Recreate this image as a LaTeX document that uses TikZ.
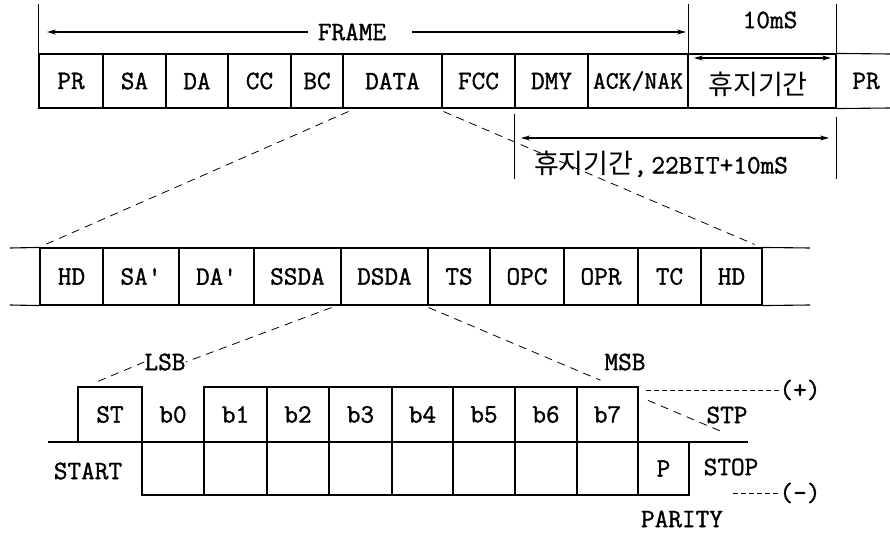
\documentclass[tikz,border=0pt]{standalone}
\usepackage{fontspec}
\newfontfamily\kr{Noto Sans CJK KR}
\newfontfamily\tfont{Latin Modern Mono}[FakeBold=1.2]
\usetikzlibrary{arrows.meta,calc}
\begin{document}
\begin{tikzpicture}[x=1pt,y=-1pt,
  every node/.style={font=\tfont\fontsize{26.5}{28}\selectfont, inner sep=0pt},
  cell/.style={draw, line width=1.1pt, minimum height=54pt},
  mcell/.style={draw, line width=1.1pt, minimum height=57pt},
  tcell/.style={draw, line width=1.1pt, minimum height=55pt},
  bcell/.style={draw, line width=1.1pt, minimum height=53pt},
  rule/.style={line width=1.1pt},
  krt/.style={font=\kr\fontsize{27}{29}\selectfont},
  dim/.style={line width=1.1pt, {Stealth[length=9pt,width=5pt]}-{Stealth[length=9pt,width=5pt]}},
  dimr/.style={line width=1.1pt, -{Stealth[length=9pt,width=5pt]}},
  dsh/.style={line width=0.8pt, dash pattern=on 8pt off 6pt},
  dshs/.style={line width=0.8pt, dash pattern=on 5pt off 3pt}]
\useasboundingbox (0,0) rectangle (890,534);

% ---------- top frame row ----------
\node[cell, minimum width=64pt]  (pr)   at (71,81)    {PR};
\node[cell, minimum width=63pt]  (sa)   at (134.5,81) {SA};
\node[cell, minimum width=62pt]  (da)   at (197,81)   {DA};
\node[cell, minimum width=63pt]  (cc)   at (259.5,81) {CC};
\node[cell, minimum width=52pt]  (bc)   at (317,81)   {BC};
\node[cell, minimum width=99pt]  (data) at (392.5,81) {DATA};
\node[cell, minimum width=73pt]  (fcc)  at (478.5,81) {FCC};
\node[cell, minimum width=73pt]  (dmy)  at (551.5,81) {DMY};
\node[cell, minimum width=100pt, font=\tfont\fontsize{25}{27}\selectfont] (ack)  at (638,81)   {ACK/NAK};
\node[cell, minimum width=148pt] (rest) at (762,81)   {};
\node[krt] (restt) at (758,84) {휴지기간};
\node (pr2) at (866,81) {PR};
\coordinate (tre) at (890,54);
\coordinate (bre) at (890,108);
\draw[rule] (rest.north east) -- (tre);
\draw[rule] (rest.south east) -- (bre);

% vertical extensions
\draw[rule] (pr.north west) -- ++(0,-49);
\draw[rule] (ack.north east) -- ++(0,-49);
\draw[rule] (rest.north east) -- ++(0,-49);
\draw[rule] ([yshift=-5pt]dmy.south west) -- ++(0,65);
\draw[rule] ([yshift=-8pt]rest.south east) -- ++(0,62);

% FRAME dimension
\node (frame) at (352,32) {FRAME};
\coordinate (fl) at (47,32);
\coordinate (fr) at (686,32);
\draw[dimr] ([xshift=-10pt]frame.west) -- (fl);
\draw[dimr] ([xshift=26pt]frame.east) -- (fr);

% 10mS
\node (tenms) at (770,20) {10mS};
\coordinate (ta) at (694,58);
\coordinate (tb) at (831,58);
\draw[dim] (ta) -- (tb);

% 22BIT
\coordinate (la) at (521,138);
\coordinate (lb) at (829,138);
\draw[dim] (la) -- (lb);
\node (pause) at (661,164) {{\kr\fontsize{27}{29}\selectfont 휴지기간},\,22BIT+10mS};

% ---------- middle row ----------
\node[mcell, minimum width=63pt] (hd1)  at (71.5,276.5)  {HD};
\node[mcell, minimum width=76pt] (sap)  at (141,276.5)   {SA'};
\node[mcell, minimum width=75pt] (dap)  at (216.5,276.5) {DA'};
\node[mcell, minimum width=87pt] (ssda) at (297.5,276.5) {SSDA};
\node[mcell, minimum width=87pt] (dsda) at (384.5,276.5) {DSDA};
\node[mcell, minimum width=62pt] (ts)   at (459,276.5)   {TS};
\node[mcell, minimum width=74pt] (opc)  at (527,276.5)   {OPC};
\node[mcell, minimum width=74pt] (opr)  at (601,276.5)   {OPR};
\node[mcell, minimum width=63pt] (tc)   at (669.5,276.5) {TC};
\node[mcell, minimum width=61pt] (hd2)  at (731.5,276.5) {HD};
\coordinate (mtl) at (10,248);
\coordinate (mbl) at (10,305);
\coordinate (mtr) at (810,248);
\coordinate (mbr) at (810,305);
\draw[rule] (mtl) -- (hd1.north west);
\draw[rule] (mbl) -- (hd1.south west);
\draw[rule] (hd2.north east) -- (mtr);
\draw[rule] (hd2.south east) -- (mbr);

% zoom dashed lines top -> middle
\draw[dsh] ([xshift=6pt,yshift=-3pt]data.south west) -- ([xshift=6pt,yshift=3pt]hd1.north west);
\draw[dsh] ([xshift=2pt,yshift=-3pt]fcc.south west) -- ([xshift=-8pt,yshift=3pt]hd2.north east);

% ---------- bit waveform ----------
\node[tcell, minimum width=64pt] (st) at (110,414.5) {ST};
\node (b0) at (173,414.5) {b0};
\node[tcell, minimum width=63pt] (b1) at (235.5,414.5) {b1};
\node[tcell, minimum width=62pt] (b2) at (298,414.5)   {b2};
\node[tcell, minimum width=63pt] (b3) at (360.5,414.5) {b3};
\node[tcell, minimum width=61pt] (b4) at (422.5,414.5) {b4};
\node[tcell, minimum width=62pt] (b5) at (484,414.5)   {b5};
\node[tcell, minimum width=62pt] (b6) at (546,414.5)   {b6};
\node[tcell, minimum width=61pt] (b7) at (607.5,414.5) {b7};
\foreach \n/\c/\w in {0/173/62, 1/235.5/63, 2/298/62, 3/360.5/63, 4/422.5/61, 5/484/62, 6/546/62, 7/607.5/61}
  \node[bcell, minimum width=\w pt] (bb\n) at (\c,468.5) {};
\node[bcell, minimum width=51pt] (par) at (663.5,468.5) {P};
\coordinate (bl) at (48,442);
\coordinate (br) at (748,442);
\draw[rule] (bl) -- (br);

% labels
\node (lsb) at (165,362) {LSB};
\node (msb) at (625,362) {MSB};
\node (stp) at (727,415) {STP};
\node (start) at (88,471) {START};
\node (stop) at (731,467) {STOP};
\node (parity) at (682,519) {PARITY};
\node (plus) at (800,390) {(+)};
\node (minus) at (800,493) {(-)};

% zoom dashed lines middle -> bits
\draw[dsh] ([xshift=-10pt,yshift=-2pt]ssda.south east) -- (lsb.east);
\draw[dsh] (lsb.west) -- ([xshift=18pt,yshift=4pt]st.north west);
\coordinate (ma) at ([yshift=-2pt]dsda.south east);
\coordinate (mz) at (725,433);
\draw[dsh] (ma) -- ($(ma)!0.58!(mz)$);
\draw[dsh] ($(ma)!0.74!(mz)$) -- (mz);

% level lines
\coordinate (pe) at (646,390);
\draw[dshs] (pe) -- (plus.west);
\coordinate (me) at (733,493);
\draw[dshs] (me) -- (minus.west);
\end{tikzpicture}
\end{document}
